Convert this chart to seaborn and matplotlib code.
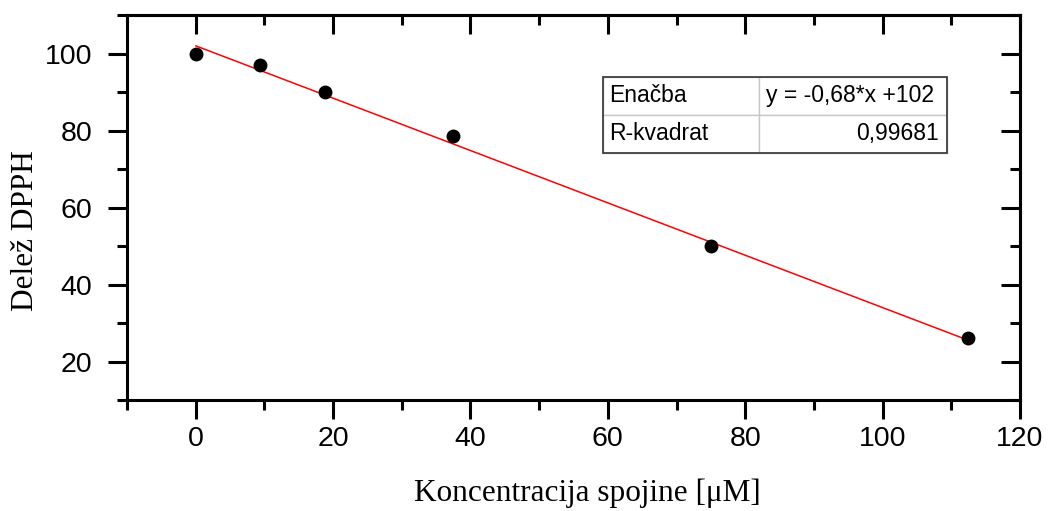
import numpy as np
import pandas as pd
import matplotlib
matplotlib.use('Agg')
import matplotlib.pyplot as plt
import seaborn as sns
from matplotlib.ticker import MultipleLocator

# podatki
koncentracija = [0, 9.375, 18.75, 37.5, 75, 112.5]
delez_dpph = [100, 97, 90, 78.5, 50, 26.2]
naklon = -0.68
odsek = 102
r_kvadrat = '0,99681'
enacba = 'y = -0,68*x +102'

df = pd.DataFrame({'x': koncentracija, 'y': delez_dpph})
fit_x = np.array([min(koncentracija), max(koncentracija)])
fit_df = pd.DataFrame({'x': fit_x, 'y': naklon * fit_x + odsek})

sns.set_style('white')
plt.rcParams['font.family'] = ['Liberation Sans', 'DejaVu Sans']
plt.rcParams['text.color'] = 'black'
plt.rcParams['axes.labelcolor'] = 'black'
plt.rcParams['xtick.color'] = 'black'
plt.rcParams['ytick.color'] = 'black'

fig = plt.figure(figsize=(10.48, 5.11), dpi=100)
ax = fig.add_axes([0.1212, 0.2172, 0.8521, 0.7534])

sns.lineplot(data=fit_df, x='x', y='y', color='red', linewidth=1.1, ax=ax, zorder=2)
sns.scatterplot(data=df, x='x', y='y', color='black', s=100, edgecolor='black', linewidth=0, ax=ax, zorder=3)

ax.set_xlim(-10, 120)
ax.set_ylim(10, 110)
ax.xaxis.set_major_locator(MultipleLocator(20))
ax.xaxis.set_minor_locator(MultipleLocator(10))
ax.yaxis.set_minor_locator(MultipleLocator(10))
ax.set_yticks([20, 40, 60, 80, 100])

for s in ax.spines.values():
    s.set_linewidth(2.2)
    s.set_color('black')

ax.tick_params(which='major', direction='out', length=13.5, width=2.2, labelsize=20.5, labelcolor='black')
ax.tick_params(which='minor', direction='out', length=7, width=2.2)
ax.tick_params(axis='x', which='major', pad=5.5)
ax.tick_params(axis='y', which='major', pad=11.5)
ax.tick_params(left=True, bottom=True, which='both')

top = ax.secondary_xaxis('top')
top.xaxis.set_major_locator(MultipleLocator(20))
top.xaxis.set_minor_locator(MultipleLocator(10))
top.tick_params(which='major', direction='in', length=13.5, width=2.2, labeltop=False)
top.tick_params(which='minor', direction='in', length=7, width=2.2)
top.spines['top'].set_linewidth(2.2)

right = ax.secondary_yaxis('right')
right.yaxis.set_major_locator(MultipleLocator(20))
right.yaxis.set_minor_locator(MultipleLocator(10))
right.tick_params(which='major', direction='in', length=13.5, width=2.2, labelright=False)
right.tick_params(which='minor', direction='in', length=7, width=2.2)
right.spines['right'].set_linewidth(2.2)

ax.set_xlabel('Koncentracija spojine [μM]', family=['Liberation Serif', 'DejaVu Serif'], fontsize=22.5)
ax.set_ylabel('Delež DPPH', family=['Liberation Serif', 'DejaVu Serif'], fontsize=22.5)
ax.xaxis.set_label_coords(0.516, -0.203)
ax.yaxis.set_label_coords(-0.098, 0.439)

# tabela
tab = ax.table(cellText=[['Enačba', enacba], ['R-kvadrat', r_kvadrat]],
               cellLoc='left', bbox=[0.533, 0.642, 0.385, 0.197], colWidths=[156, 188], zorder=4)
tab.auto_set_font_size(False)
for (r, c), cell in tab.get_celld().items():
    cell.set_edgecolor('#c8c8c8')
    cell.set_linewidth(1.0)
    cell.set_facecolor('white')
    cell.get_text().set_fontsize(16.5)
    cell.get_text().set_color('black')
    cell.PAD = 0.04
    if r == 1 and c == 1:
        cell._loc = 'right'
        cell.get_text().set_ha('right')
outer = plt.Rectangle((0.533, 0.642), 0.385, 0.197, transform=ax.transAxes,
                      fill=False, edgecolor='#404040', linewidth=1.3, zorder=5)
ax.add_patch(outer)

fig.savefig('out.png', dpi=100)
